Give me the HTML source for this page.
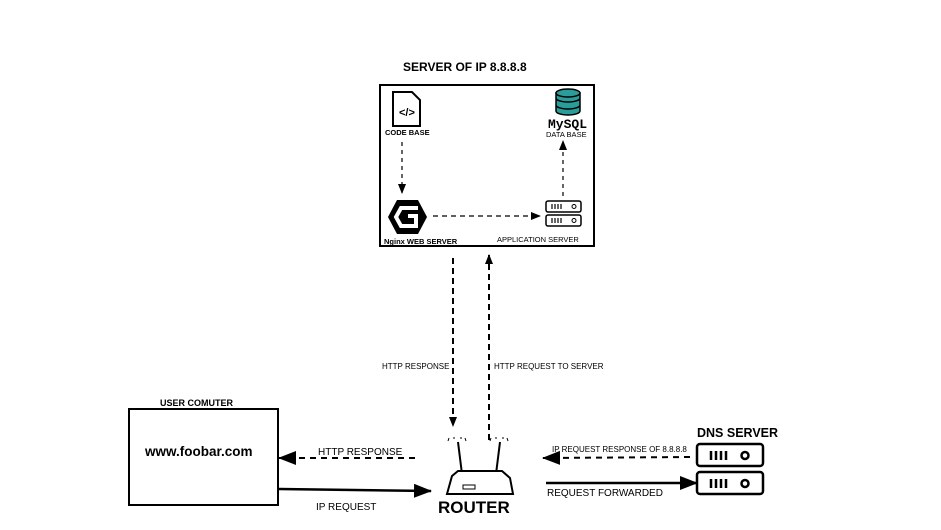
<!DOCTYPE html>
<html><head><meta charset="utf-8"><style>
body{margin:0;background:#fff;}
svg text{font-family:"Liberation Sans",Arial,sans-serif;fill:#000;}
svg text.mono{font-family:"Liberation Mono",monospace;}
</style></head><body>
<svg width="941" height="525" viewBox="0 0 941 525" xmlns="http://www.w3.org/2000/svg">
<defs>
<marker id="a" markerWidth="10" markerHeight="10" refX="9" refY="5" orient="auto" markerUnits="userSpaceOnUse"><path d="M0,1 L10,5 L0,9 Z" fill="#000"/></marker>
<marker id="b" markerWidth="18" markerHeight="14" refX="17" refY="7" orient="auto" markerUnits="userSpaceOnUse"><path d="M0,0 L18,7 L0,14 Z" fill="#000"/></marker>
</defs>
<text x="403" y="71" font-size="12" font-weight="bold">SERVER OF IP 8.8.8.8</text>
<rect x="380" y="85" width="214" height="161" fill="none" stroke="#000" stroke-width="2"/>
<path d="M393,92 H412 L420,100 V126 H393 Z" fill="#fff" stroke="#000" stroke-width="2"/>
<text x="399" y="116" font-size="11" font-weight="bold">&lt;/&gt;</text>
<text x="385" y="135" font-size="7.5" font-weight="bold">CODE BASE</text>
<g fill="#2a9d9a" stroke="#000" stroke-width="1.5">
<path d="M556,106 v5 a12,4 0 0 0 24,0 v-5 z"/>
<path d="M556,99 v6 a12,4 0 0 0 24,0 v-6 z"/>
<path d="M556,93 v5 a12,4 0 0 0 24,0 v-5 z"/>
<ellipse cx="568" cy="93" rx="12" ry="4"/>
</g>
<text class="mono" x="548" y="128" font-size="13" font-weight="bold">MySQL</text>
<text x="546" y="137" font-size="7.5">DATA BASE</text>
<line x1="402" y1="142" x2="402" y2="193" stroke="#000" stroke-dasharray="4,4" stroke-width="1.2" marker-end="url(#a)"/>
<path d="M397,200 H418 L427,217 L418,234 H397 L388,217 Z" fill="#000"/>
<path d="M418,208 H401 L396,217 L401,226 H416 V216 H408" fill="none" stroke="#fff" stroke-width="4"/>
<text x="384" y="244" font-size="7.5" font-weight="bold">Nginx WEB SERVER</text>
<line x1="433" y1="216" x2="540" y2="216" stroke="#000" stroke-dasharray="5,4" stroke-width="1.2" marker-end="url(#a)"/>
<g fill="#fff" stroke="#000" stroke-width="1.5">
<rect x="546" y="201" width="35" height="11" rx="2"/>
<rect x="546" y="215" width="35" height="11" rx="2"/>
</g>
<g stroke="#000" stroke-width="1.2"><path d="M552,204v5M555,204v5M558,204v5M561,204v5M552,218v5M555,218v5M558,218v5M561,218v5"/></g>
<circle cx="574" cy="206.5" r="2" fill="none" stroke="#000"/><circle cx="574" cy="220.5" r="2" fill="none" stroke="#000"/>
<text x="497" y="242" font-size="7.5">APPLICATION SERVER</text>
<line x1="563" y1="196" x2="563" y2="141" stroke="#000" stroke-dasharray="4,4" stroke-width="1.2" marker-end="url(#a)"/>
<line x1="453" y1="258" x2="453" y2="426" stroke="#000" stroke-dasharray="6,4" stroke-width="2" marker-end="url(#a)"/>
<line x1="489" y1="440" x2="489" y2="255" stroke="#000" stroke-dasharray="6,4" stroke-width="2" marker-end="url(#a)"/>
<text x="382" y="369" font-size="8">HTTP RESPONSE</text>
<text x="494" y="369" font-size="8">HTTP REQUEST TO SERVER</text>
<text x="160" y="406" font-size="9" font-weight="bold">USER COMUTER</text>
<rect x="129" y="409" width="149" height="96" fill="none" stroke="#000" stroke-width="2"/>
<text x="145" y="456" font-size="13.5" font-weight="bold">www.foobar.com</text>
<line x1="415" y1="458" x2="279" y2="458" stroke="#000" stroke-dasharray="6,5" stroke-width="2" marker-end="url(#b)"/>
<text x="318" y="455" font-size="10">HTTP RESPONSE</text>
<line x1="279" y1="489" x2="431" y2="491" stroke="#000" stroke-width="2.5" marker-end="url(#b)"/>
<text x="316" y="510" font-size="10">IP REQUEST</text>
<g fill="none" stroke="#000" stroke-width="2">
<path d="M458,442 L462,474 M500,442 L496,474"/>
<path d="M452,476 L458,471 H502 L510,478 L513,494 H447 Z" fill="#fff"/>
</g>
<g stroke="#000" stroke-width="1"><path d="M448,441l1,-3M454,439v-2M461,439v-2M466,441l-1,-3M490,441l1,-3M496,439v-2M503,439v-2M508,441l-1,-3"/></g>
<rect x="463" y="485" width="12" height="4" fill="none" stroke="#000"/>
<text x="438" y="513" font-size="17" font-weight="bold">ROUTER</text>
<text x="697" y="437" font-size="12.5" font-weight="bold">DNS SERVER</text>
<g fill="#fff" stroke="#000" stroke-width="2.5">
<rect x="697" y="444" width="66" height="22" rx="3"/>
<rect x="697" y="472" width="66" height="22" rx="3"/>
</g>
<g stroke="#000" stroke-width="2.5"><path d="M711,451v9M716,451v9M721,451v9M726,451v9M711,479v9M716,479v9M721,479v9M726,479v9"/></g>
<circle cx="745" cy="455.5" r="3.5" fill="none" stroke="#000" stroke-width="2.5"/><circle cx="745" cy="483.5" r="3.5" fill="none" stroke="#000" stroke-width="2.5"/>
<line x1="690" y1="457" x2="543" y2="458" stroke="#000" stroke-dasharray="6,5" stroke-width="2" marker-end="url(#b)"/>
<text x="552" y="452" font-size="8">IP REQUEST RESPONSE OF 8.8.8.8</text>
<line x1="546" y1="483" x2="697" y2="483" stroke="#000" stroke-width="2.5" marker-end="url(#b)"/>
<text x="547" y="496" font-size="10">REQUEST FORWARDED</text>
</svg>
</body></html>
